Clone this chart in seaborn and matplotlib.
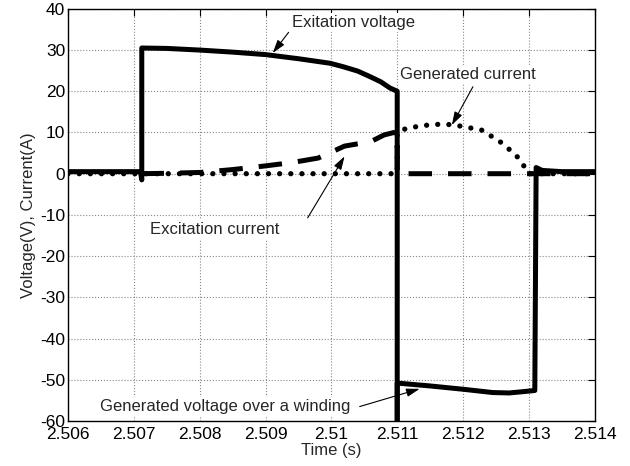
"""Excitation / generated voltage and current waveforms."""

import matplotlib
matplotlib.use("Agg")
import matplotlib.pyplot as plt
import seaborn as sns

# Exitation voltage (solid)
t_exc_v = [2.506, 2.5071, 2.50712, 2.50712, 2.5075, 2.508, 2.5085, 2.509, 2.5095,
           2.50998, 2.51017, 2.5104, 2.51058, 2.51075, 2.51089, 2.511, 2.511]
v_exc_v = [0.5, 0.5, -1.5, 30.5, 30.4, 30.0, 29.5, 28.9, 27.9,
           26.8, 26.0, 24.9, 23.6, 22.3, 20.8, 20.0, -62]

# Generated voltage over a winding (solid)
t_gen_v = [2.511, 2.511, 2.5115, 2.512, 2.51245, 2.5127, 2.5129, 2.51309,
           2.51311, 2.5132, 2.5135, 2.514]
v_gen_v = [-62, -50.8, -51.5, -52.3, -53.1, -53.2, -52.9, -52.6,
           1.5, 0.8, 0.5, 0.5]

# Excitation current (dashed)
t_exc_i = [2.5071, 2.5075, 2.508, 2.5085, 2.509, 2.5094, 2.5098, 2.5102,
           2.5106, 2.5108, 2.511, 2.511, 2.514]
v_exc_i = [0, 0.1, 0.3, 1.0, 1.9, 2.7, 3.8, 6.7, 7.8, 9.4, 10.2, 0, 0]

# Generated current (dotted)
t_gen_i = [2.506, 2.511, 2.511, 2.51114, 2.5114, 2.51164, 2.51183, 2.51198,
           2.51228, 2.51243, 2.51256, 2.51268, 2.51281, 2.5129, 2.51301, 2.514]
v_gen_i = [0, 0, 10, 11, 11.7, 12, 11.9, 11.5, 10.6, 9.1, 7.8, 6.2, 4.4, 2.4, 0, 0]

x_ticks = [2.506, 2.507, 2.508, 2.509, 2.510, 2.511, 2.512, 2.513, 2.514]
x_labels = ["2.506", "2.507", "2.508", "2.509", "2.51", "2.511", "2.512", "2.513", "2.514"]
y_ticks = [40, 30, 20, 10, 0, -10, -20, -30, -40, -50, -60]

sns.set_style("white")
plt.rcParams["font.family"] = ["Liberation Sans", "DejaVu Sans"]
plt.rcParams["axes.unicode_minus"] = False

fig, ax = plt.subplots(figsize=(6.3, 4.66), dpi=100)
fig.subplots_adjust(left=0.108, right=0.944, top=0.981, bottom=0.0966)

common = dict(ax=ax, color="black", sort=False, estimator=None, legend=False)
sns.lineplot(x=t_gen_i, y=v_gen_i, linewidth=3.8,
             linestyle=(0, (0.01, 2.1)), dash_capstyle="round", **common)
sns.lineplot(x=t_exc_i, y=v_exc_i, linewidth=3.6,
             linestyle=(0, (4.7, 3.2)), **common)
sns.lineplot(x=t_exc_v, y=v_exc_v, linewidth=3.6, **common)
sns.lineplot(x=t_gen_v, y=v_gen_v, linewidth=3.6, **common)

ax.set_xlim(2.506, 2.514)
ax.set_ylim(-60, 40)
ax.set_xticks(x_ticks)
ax.set_xticklabels(x_labels)
ax.set_yticks(y_ticks)
ax.tick_params(direction="in", length=5, width=0.8, top=True, right=True,
               labelsize=12.5, colors="black", pad=2)
ax.tick_params(axis="x", pad=4)
ax.grid(True, linestyle=":", color="#888888", linewidth=0.8)
ax.set_axisbelow(True)
for s in ax.spines.values():
    s.set_color("black")
    s.set_linewidth(1.0)

ax.set_xlabel("Time (s)", fontsize=12, labelpad=1)
ax.set_ylabel("Voltage(V), Current(A)", fontsize=12, labelpad=3)

box = dict(facecolor="white", edgecolor="none", pad=1.5)
arrow = dict(arrowstyle="-|>,head_length=0.8,head_width=0.25", color="black",
             linewidth=0.8, shrinkA=0, shrinkB=0)
notes = [
    ("Exitation voltage", (2.51033, 36.6), (2.50911, 29.3), (2.50935, 34.3)),
    ("Generated current", (2.51207, 24.0), (2.51183, 11.8), (2.51215, 21.1)),
    ("Excitation current", (2.50823, -13.6), (2.5102, 4.2), (2.50964, -10.7)),
    ("Generated voltage over a winding", (2.50839, -56.6), (2.51134, -52.2), (2.51043, -56.5)),
]
for label, pos, tip, tail in notes:
    ax.text(pos[0], pos[1], label, ha="center", va="center", fontsize=12,
            bbox=box, zorder=1.5)
    ax.annotate("", xy=tip, xytext=tail, arrowprops=arrow, zorder=5)

fig.savefig("out.png", dpi=100)
